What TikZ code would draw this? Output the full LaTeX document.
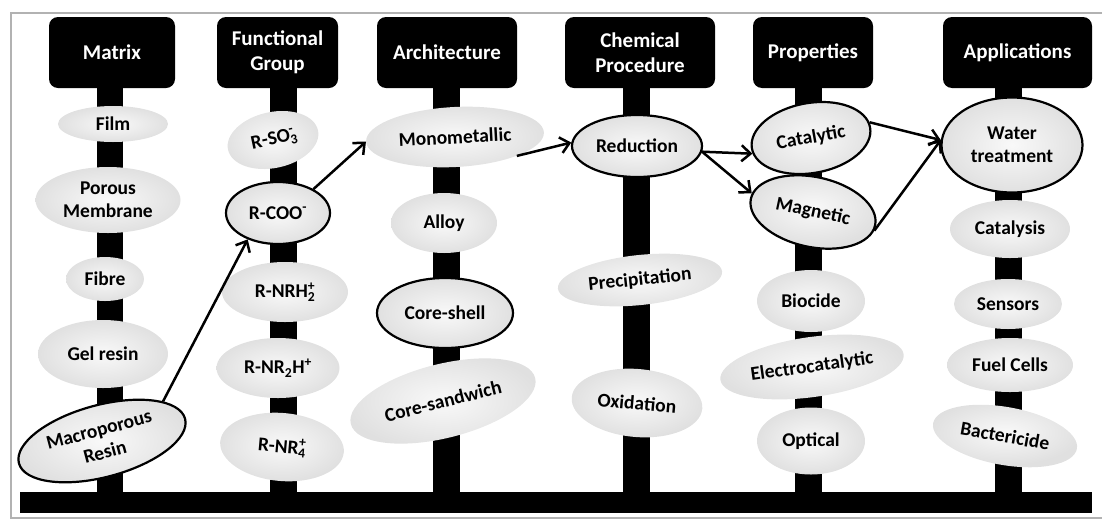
\documentclass[tikz,border=0pt]{standalone}
\usepackage{fontspec}
\setmainfont{Carlito}
\usetikzlibrary{shapes.geometric,arrows.meta,calc}
\newcommand\myss[2]{\rlap{\textsubscript{#1}}\textsuperscript{#2}}
\begin{document}
\begin{tikzpicture}[x=1pt,y=-1pt,
 hdr/.style={fill=black, rounded corners=9pt, text=white, font=\fontsize{21}{25}\selectfont\bfseries, align=center, minimum height=71pt, inner sep=2pt},
 blob/.style={ellipse, inner sep=0pt, shade, inner color=gray!5, outer color=gray!24, font=\fontsize{19.5}{23}\selectfont\bfseries, align=center},
 edged/.style={draw=black, line width=2.2pt},
 arr/.style={line width=2.5pt, -{Straight Barb[length=9pt,width=16pt,line width=2.5pt]}},
 framel/.style={gray!60, line width=1.5pt}
]
\useasboundingbox (0,0) rectangle (1107,520);
% frame
\draw[framel] (1102,13) -- (11,13) -- (11,518) -- (1102,518);
% headers
\node[hdr, minimum width=126pt] (hM) at (112,52.5) {Matrix};
\node[hdr, minimum width=121pt] (hF) at (277.5,52.5) {Functional\\Group};
\node[hdr, minimum width=140pt] (hA) at (447,52.5) {Architecture};
\node[hdr, minimum width=150pt] (hC) at (640,52.5) {Chemical\\Procedure};
\node[hdr, minimum width=120pt] (hP) at (813,52.5) {Properties};
\node[hdr, minimum width=149pt] (hAp) at (1017.5,52.5) {Applications};
% bottom bar
\node[fill=black, minimum width=1072pt, minimum height=21pt, inner sep=0pt] (bar) at (556,502.5) {};
% stems
\fill ([xshift=-15pt]hM.south) rectangle ([xshift=11pt]hM.south |- bar.north);
\fill ([xshift=-7.5pt]hF.south) rectangle ([xshift=19.5pt]hF.south |- bar.north);
\fill ([xshift=-14pt]hA.south) rectangle ([xshift=13pt]hA.south |- bar.north);
\fill ([xshift=-17pt]hC.south) rectangle ([xshift=10pt]hC.south |- bar.north);
\fill ([xshift=-18pt]hP.south) rectangle ([xshift=9pt]hP.south |- bar.north);
\fill ([xshift=-22.5pt]hAp.south) rectangle ([xshift=4.5pt]hAp.south |- bar.north);
% Matrix
\node[blob, minimum width=110pt, minimum height=36pt] (film) at (113,124) {Film};
\node[blob, minimum width=145pt, minimum height=66pt] (pm) at (108,200) {Porous\\Membrane};
\node[blob, minimum width=78pt, minimum height=44pt] (fib) at (105,279) {Fibre};
\node[blob, minimum width=130pt, minimum height=68pt] (gel) at (103,354) {Gel resin};
\node[blob, edged, minimum width=172pt, minimum height=72pt, rotate=15] (mac) at (102,441) {Macroporous\\Resin};
% Functional group
\node[blob, minimum width=92pt, minimum height=56pt, rotate=12] (so3) at (273,140) {R-SO\myss{3}{-}};
\node[blob, edged, minimum width=104pt, minimum height=62pt] (coo) at (278,213) {R-COO\textsuperscript{-}};
\node[blob, minimum width=126pt, minimum height=60pt] (nrh2) at (285,292) {R-NRH\myss{2}{+}};
\node[blob, minimum width=123pt, minimum height=60pt] (nr2h) at (278,368) {R-NR\textsubscript{2}H\textsuperscript{+}};
\node[blob, minimum width=124pt, minimum height=68pt, rotate=-5] (nr4) at (282,447) {R-NR\myss{4}{+}};
% Architecture
\node[blob, minimum width=178pt, minimum height=60pt, rotate=3] (mono) at (455,137) {Monometallic};
\node[blob, minimum width=106pt, minimum height=60pt] (alloy) at (444,223) {Alloy};
\node[blob, edged, minimum width=136pt, minimum height=70pt] (cs) at (445,313) {Core-shell};
\node[blob, minimum width=190pt, minimum height=74pt, rotate=14] (csw) at (443,401) {Core-sandwich};
% Chemical procedure
\node[blob, edged, minimum width=130pt, minimum height=62pt] (red) at (637,146) {Reduction};
\node[blob, minimum width=165pt, minimum height=50pt, rotate=6] (prec) at (640,280) {Precipitation};
\node[blob, minimum width=131pt, minimum height=68pt, rotate=-5] (oxi) at (637,403) {Oxidation};
% Properties
\node[blob, edged, minimum width=120pt, minimum height=70pt, rotate=10] (cat) at (811,138) {Catalytic};
\node[blob, edged, minimum width=127pt, minimum height=70pt, rotate=-12] (mag) at (813,212) {Magnetic};
\node[blob, minimum width=108pt, minimum height=62pt] (bio) at (811,301) {Biocide};
\node[blob, minimum width=185pt, minimum height=60pt, rotate=8] (elec) at (812,367) {Electrocatalytic};
\node[blob, minimum width=108pt, minimum height=67pt] (opt) at (811,441) {Optical};
% Applications
\node[blob, edged, minimum width=141pt, minimum height=95pt] (wt) at (1012,145) {Water\\treatment};
\node[blob, minimum width=120pt, minimum height=58pt] (catl) at (1010,229) {Catalysis};
\node[blob, minimum width=108pt, minimum height=50pt] (sens) at (1008,304) {Sensors};
\node[blob, minimum width=126pt, minimum height=54pt] (fuel) at (1010,365) {Fuel Cells};
\node[blob, minimum width=146pt, minimum height=58pt, rotate=-10] (bact) at (1005,436) {Bactericide};
% arrows
\draw[arr] (mac.18) -- (coo.221);
\draw[arr] (coo.34) -- (mono.west);
\draw[arr] (mono.-20) -- (red.177);
\draw[arr] (red.-5) -- (cat.185);
\draw[arr] (red.-5) -- (mag.175);
\draw[arr] (cat.5) -- (wt.176);
\draw[arr] (mag.-5) -- (wt.176);
\end{tikzpicture}
\end{document}
